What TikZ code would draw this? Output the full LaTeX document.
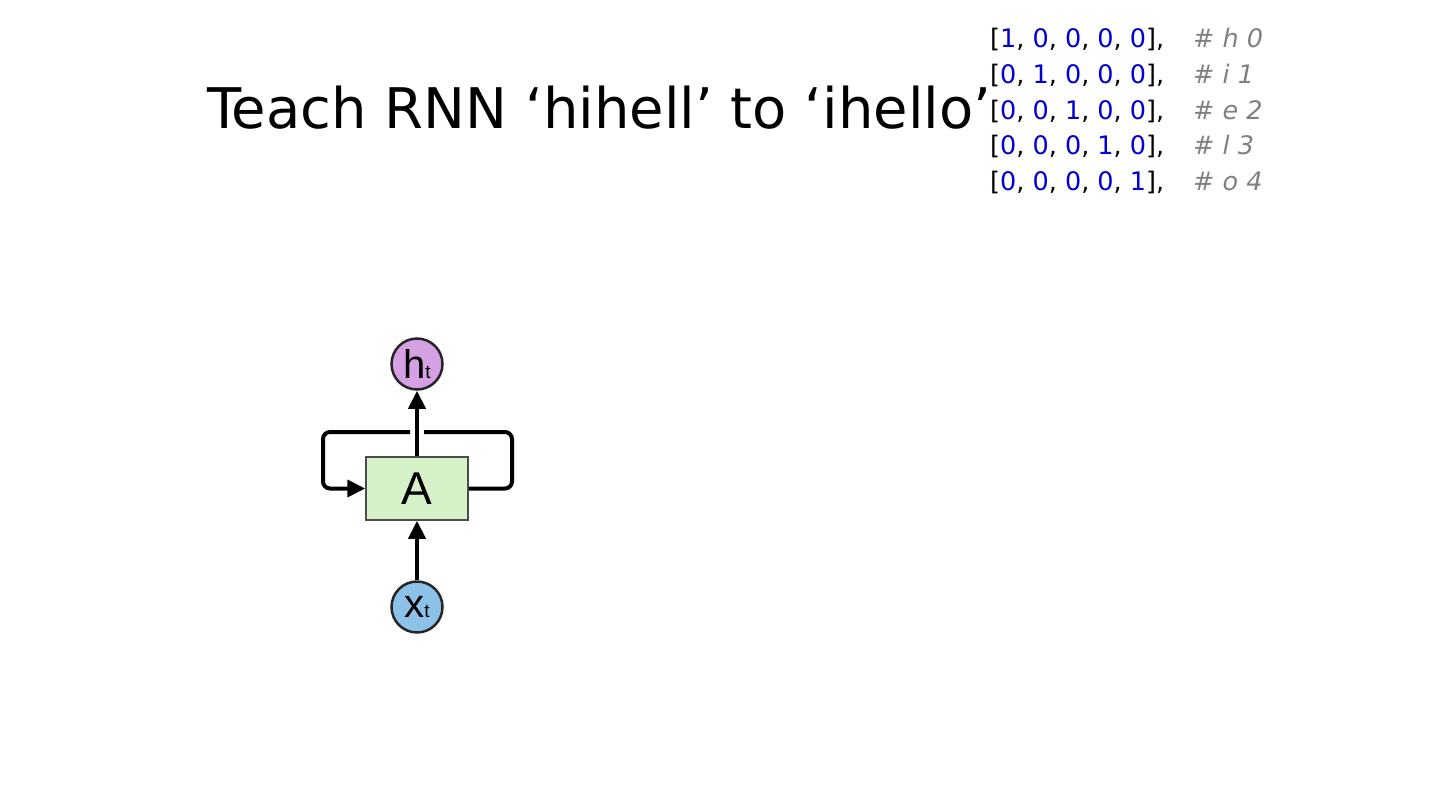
\documentclass[tikz,border=0pt]{standalone}
\usepackage{fontspec}
\setmainfont{DejaVu Sans}
\newfontfamily\diagfont{Liberation Sans}
\usetikzlibrary{arrows.meta,positioning}
\definecolor{codeblue}{RGB}{0,0,215}
\definecolor{codegray}{RGB}{128,128,128}
\definecolor{hpurple}{RGB}{214,160,228}
\definecolor{xblue}{RGB}{140,194,232}
\definecolor{cellgreen}{RGB}{214,240,200}

% one-hot row, #1 = index of the 1
\newcommand{\onehot}[1]{[\foreach \k in {0,...,4}{\ifnum\k>0 , \fi\textcolor{codeblue}{\ifnum\k=#1 1\else 0\fi}}],}

\begin{document}
\begin{tikzpicture}[
  >={Triangle[length=18pt,width=17pt]}, x=1pt, y=-1pt,
  title/.style={font=\fontsize{56}{60}\selectfont,inner sep=0,anchor=base west},
  codeline/.style={font=\fontsize{25.5}{30}\selectfont,inner sep=0,anchor=base west},
  comment/.style={codeline,text=codegray,font=\fontsize{25.5}{30}\selectfont\itshape},
  cell/.style={draw=black!70,line width=1.5pt,fill=cellgreen,minimum width=102pt,
    minimum height=63pt,inner sep=0,font=\diagfont\fontsize{46}{50}\selectfont},
  state/.style={circle,draw=black!85,line width=2.5pt,minimum size=51pt,inner sep=0,
    font=\diagfont\fontsize{40}{40}\selectfont},
  wire/.style={draw=black,line width=4pt}]
\useasboundingbox (0,0) rectangle (1440,811);
\node[title] (title) at (207,128) {Teach RNN ‘hihell’ to ‘ihello’};
\foreach \ch [count=\i from 0] in {h,i,e,l,o}{
  \node[codeline] (row\i) at (990,47.5+35.75*\i) {\onehot{\i}};
  \node[comment] (cmt\i) at (1193,47.5+35.75*\i) {\# \ch\ \i};
}
\node[cell] (A) at (417,488.5) {A};
\node[state,fill=hpurple] (h) at (417,364) {h{\fontsize{19}{19}\selectfont t}};
\node[state,fill=xblue] (x) at (417,607) {x{\fontsize{19}{19}\selectfont t}};
\coordinate (loopR) at (512,432);
\coordinate (loopL) at (323,432);
\coordinate (gapR) at (424,432);
\coordinate (gapL) at (410,432);
\draw[wire,->] (x) -- (A);
\draw[wire,->] (A) -- (h);
\draw[wire,rounded corners=7pt] (A.east) -| (loopR) -- (gapR);
\draw[wire,->,rounded corners=7pt] (gapL) -- (loopL) |- (A.west);
\end{tikzpicture}
\end{document}
